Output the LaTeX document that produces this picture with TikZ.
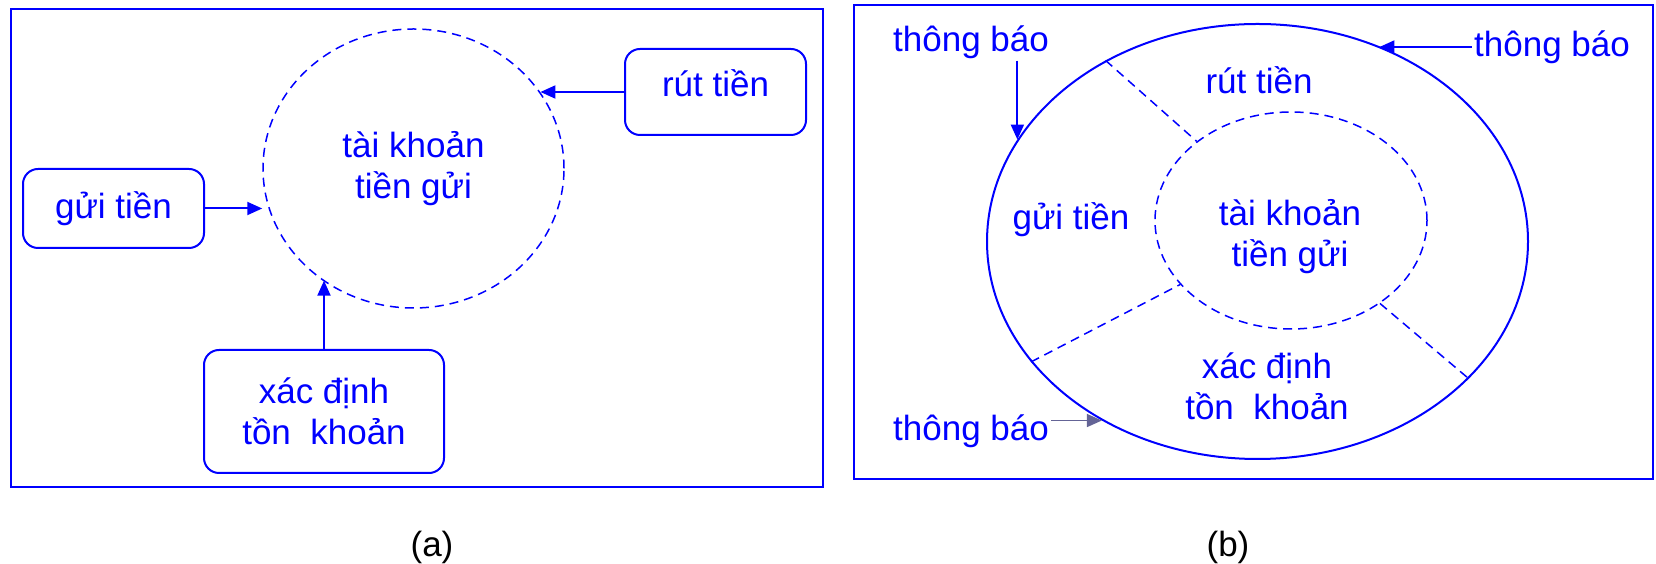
\documentclass[tikz,border=0pt]{standalone}
\usepackage{fontspec}
\setmainfont{Liberation Sans}
\usepackage{tikz}
\usetikzlibrary{arrows.meta,shapes.geometric}
\definecolor{ink}{RGB}{0,0,255}
\definecolor{greyink}{RGB}{100,100,150}
\tikzset{
    txt/.style = {
        align=center,
        inner sep=2pt,
        text=ink,
        font=\fontsize{35}{41}\selectfont
    },
    procbox/.style = {
        txt,
        rectangle,
        rounded corners=15pt,
        draw=ink,
        line width=2pt,
        inner sep=0pt
    },
    storenode/.style = {
        txt,
        ellipse,
        draw=ink,
        line width=1.5pt,
        dash pattern=on 9pt off 6pt,
        inner sep=0pt
    },
    ringnode/.style = {
        ellipse,
        draw=ink,
        line width=2pt,
        inner sep=0pt
    },
    frame/.style = {draw=ink, line width=2pt},
    flow/.style = {draw=ink, line width=2pt, -{Triangle[length=15pt,width=13pt]}},
    split/.style = {draw=ink, line width=1.5pt, dash pattern=on 9pt off 6pt}
}

\begin{document}
\begin{tikzpicture}[x=1pt,y=1pt]
    \useasboundingbox (0,0) rectangle (1656,564);

    % (a) processes around the account
    \draw [frame] (11,77) rectangle (823,555);
    \node [storenode, minimum width=301pt, minimum height=279pt] (account) at (413.5,395.5) {tài khoản\\tiền gửi};
    \node [procbox, minimum width=181pt, minimum height=86pt, text depth=18pt] (withdraw) at (715.5,472) {rút tiền};
    \node [procbox, minimum width=181pt, minimum height=79pt] (deposit) at (113.5,355.5) {gửi tiền};
    \node [procbox, minimum width=240pt, minimum height=123pt] (balance) at (324,152.5) {xác định\\tồn\ \ khoản};
    \draw [flow] (withdraw.west) -- (withdraw.west -| account.31);
    \draw [flow] (deposit.east) -- (deposit.east -| account.west);
    \draw [flow] (balance.north) -- (balance.north |- account.231);
    \node [txt, text=black] (capa) at (432,17) {(a)};

    % (b) the account wrapped in its operations
    \draw [frame] (854,85) rectangle (1653,559);
    \node [ringnode, minimum width=541pt, minimum height=435pt] (ring) at (1257.5,322.5) {};
    \node [storenode, minimum width=272pt, minimum height=217pt] (core) at (1291,343.5) {};
    \node [txt] (coretext) at (1290,327) {tài khoản\\tiền gửi};
    \node [txt] (ringwithdraw) at (1259,484) {rút tiền};
    \node [txt] (ringdeposit) at (1071,344) {gửi tiền};
    \node [txt] (ringbalance) at (1267,178) {xác định\\tồn\ \ khoản};
    \draw [split] (ring.130) -- (core.140);
    \draw [split] (ring.208) -- (core.210);
    \draw [split] (core.317) -- (ring.327);

    \node [txt] (notice1) at (971,522) {thông báo};
    \node [txt] (notice2) at (1552,517) {thông báo};
    \node [txt] (notice3) at (971,133) {thông báo};
    \draw [flow] (notice1.south -| ring.157) -- (ring.157);
    \draw [flow] (notice2.west) -- (notice2.west -| ring.58);
    \draw [flow, draw=greyink, line width=1.5pt] (notice3.east |- ring.229) -- (ring.229);
    \node [txt, text=black] (capb) at (1228,17) {(b)};
\end{tikzpicture}
\end{document}
